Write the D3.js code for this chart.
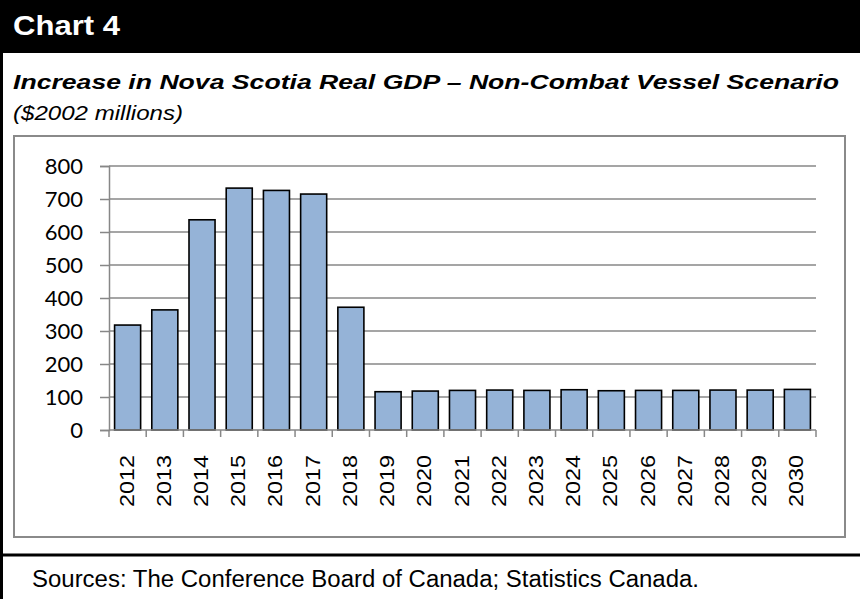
<!DOCTYPE html>
<html>
<head>
<meta charset="utf-8">
<script src="https://cdn.jsdelivr.net/npm/d3@7"></script>
<style>
  html, body { margin: 0; padding: 0; background: #fff; }
  svg { display: block; }
</style>
</head>
<body>
<svg id="chart" width="860" height="599"></svg>
<script>
// Increase in Nova Scotia real GDP, non-combat vessel scenario ($2002 millions)
const years = ["2012","2013","2014","2015","2016","2017","2018","2019","2020","2021",
               "2022","2023","2024","2025","2026","2027","2028","2029","2030"];
const gdpIncrease = [318, 364, 637, 733, 726, 715, 372, 116, 118, 120,
                     121, 120, 122, 119, 120, 120, 121, 121, 123];
const yTicks = [0, 100, 200, 300, 400, 500, 600, 700, 800];

const chartLabel = "Chart 4";
const titleText = "Increase in Nova Scotia Real GDP \u2013 Non-Combat Vessel Scenario";
const unitText = "($2002 millions)";
const sourceText = "Sources: The Conference Board of Canada; Statistics Canada.";

const svg = d3.select("#chart");
const W = 860, H = 599;
const arial = "'Liberation Sans', Arial, sans-serif";

// header band
svg.append("rect").attr("x", 0).attr("y", 0).attr("width", W).attr("height", 53).attr("fill", "#000");
svg.append("text").attr("x", 13).attr("y", 35)
  .attr("font-family", arial).attr("font-weight", "bold").attr("font-size", 28)
  .attr("fill", "#fff").attr("textLength", 107).attr("lengthAdjust", "spacingAndGlyphs")
  .text(chartLabel);

// left frame rule and footer separator
svg.append("rect").attr("x", 0).attr("y", 53).attr("width", 3).attr("height", H - 53).attr("fill", "#000");
svg.append("rect").attr("x", 0).attr("y", 553.5).attr("width", W).attr("height", 3).attr("fill", "#000");

// titles
svg.append("text").attr("x", 13).attr("y", 89)
  .attr("font-family", arial).attr("font-weight", "bold").attr("font-style", "italic")
  .attr("font-size", 20).attr("fill", "#000")
  .attr("textLength", 826).attr("lengthAdjust", "spacingAndGlyphs")
  .text(titleText);
svg.append("text").attr("x", 13).attr("y", 120)
  .attr("font-family", arial).attr("font-style", "italic")
  .attr("font-size", 20).attr("fill", "#000")
  .attr("textLength", 170).attr("lengthAdjust", "spacingAndGlyphs")
  .text(unitText);

// source note
svg.append("text").attr("x", 32).attr("y", 587)
  .attr("font-family", arial).attr("font-size", 23).attr("fill", "#000")
  .attr("textLength", 667).attr("lengthAdjust", "spacingAndGlyphs")
  .text(sourceText);

// chart area box
svg.append("rect").attr("x", 14).attr("y", 136).attr("width", 831).attr("height", 401)
  .attr("fill", "none").attr("stroke", "#8a8a8a").attr("stroke-width", 2);

// plot scales
const x = d3.scaleBand().domain(years).range([109, 816]).paddingInner(0.3).paddingOuter(0.15);
const y = d3.scaleLinear().domain([0, 800]).range([430, 166]);
const gray = "#878787";

// horizontal gridlines
svg.append("g").selectAll("line").data(yTicks.filter(d => d > 0)).join("line")
  .attr("x1", 109).attr("x2", 816)
  .attr("y1", d => y(d)).attr("y2", d => y(d))
  .attr("stroke", gray).attr("stroke-width", 1.5);

// y axis
const yAxis = svg.append("g").attr("transform", "translate(109,0)")
  .call(d3.axisLeft(y).tickValues(yTicks).tickSize(9).tickPadding(17));
yAxis.select(".domain").attr("stroke", gray).attr("stroke-width", 1.5);
yAxis.selectAll(".tick line").attr("stroke", gray).attr("stroke-width", 1.5);
yAxis.selectAll(".tick text")
  .attr("font-family", "Lato, 'Open Sans', sans-serif").attr("font-size", 22).attr("fill", "#000");

// bars
svg.append("g").selectAll("rect").data(years).join("rect")
  .attr("x", d => x(d))
  .attr("width", x.bandwidth())
  .attr("y", (d, i) => y(gdpIncrease[i]))
  .attr("height", (d, i) => y(0) - y(gdpIncrease[i]))
  .attr("fill", "#95b3d7").attr("stroke", "#000").attr("stroke-width", 1.6);

// x axis baseline with ticks at category boundaries
const step = x.step();
const bounds = d3.range(years.length + 1).map(i => 109 + i * (816 - 109) / years.length);
const xAxis = svg.append("g");
xAxis.append("line").attr("x1", 109).attr("x2", 816).attr("y1", y(0)).attr("y2", y(0))
  .attr("stroke", gray).attr("stroke-width", 1.5);
xAxis.selectAll("line.tk").data(bounds).join("line").attr("class", "tk")
  .attr("x1", d => d).attr("x2", d => d).attr("y1", y(0)).attr("y2", y(0) + 7)
  .attr("stroke", gray).attr("stroke-width", 1.5);

// rotated year labels
xAxis.selectAll("text").data(years).join("text")
  .attr("transform", d => `translate(${x(d) + x.bandwidth() / 2 + 6},455) rotate(-90)`)
  .attr("text-anchor", "end")
  .attr("font-family", arial).attr("font-size", 20).attr("fill", "#000")
  .attr("textLength", 52).attr("lengthAdjust", "spacingAndGlyphs")
  .text(d => d);
</script>
</body>
</html>
